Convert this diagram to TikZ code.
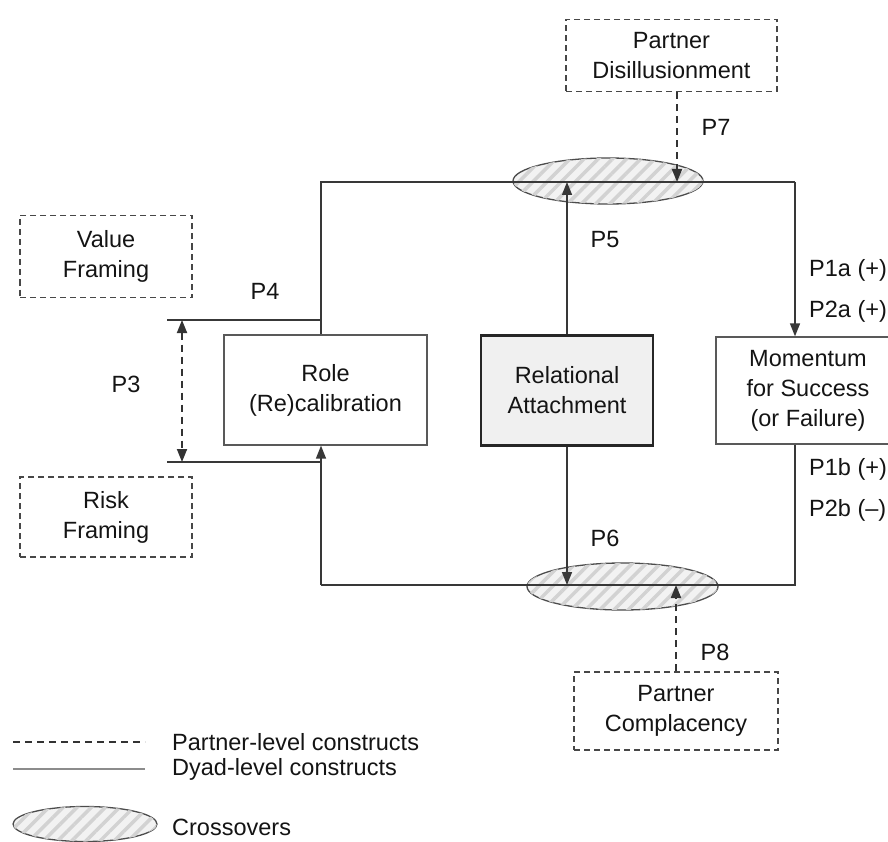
\documentclass[tikz,border=0pt]{standalone}
\usepackage{fontspec}
\setmainfont{Liberation Sans}
\usetikzlibrary{arrows.meta,shapes.geometric,patterns.meta}

\begin{document}
\begin{tikzpicture}[x=1pt,y=-1pt,
  font=\fontsize{23.5}{30}\selectfont,
  every node/.style={text=black!92},
  conn/.style={draw=black!78, line width=1.5pt},
  tipend/.style={-{Triangle[length=13pt,width=10pt]}},
  partner/.style={draw=black!80, line width=2pt, dash pattern=on 7pt off 5pt},
  dyadbox/.style={draw=black!65, line width=1.3pt, align=center, inner sep=0pt},
  partnerbox/.style={draw=black!72, line width=1.6pt, dash pattern=on 6pt off 4pt, align=center, inner sep=0pt},
  crossover/.style={ellipse, draw=black!70, line width=1.3pt, inner sep=0pt,
    fill=gray!10, postaction={pattern={Lines[angle=45,distance=10pt,line width=3.5pt]}, pattern color=gray!35}},
  plabel/.style={inner sep=0pt}
]
\clip (0,0) rectangle (888,842);

% crossover ellipses
\node[crossover, minimum width=190pt, minimum height=46pt] (topx) at (608,181) {};
\node[crossover, minimum width=191pt, minimum height=47pt] (botx) at (622.5,586.5) {};

% constructs
\node[partnerbox, minimum width=211pt, minimum height=72pt] (dis) at (671.5,55.5) {Partner\\Disillusionment};
\node[partnerbox, minimum width=172pt, minimum height=82pt] (value) at (106,256.5) {Value\\Framing};
\node[partnerbox, minimum width=172pt, minimum height=80pt] (risk) at (106,517) {Risk\\Framing};
\node[partnerbox, minimum width=204pt, minimum height=78pt] (comp) at (676,711) {Partner\\Complacency};

\node[dyadbox, minimum width=203pt, minimum height=110pt] (role) at (325.5,390) {Role\\(Re)calibration};
\node[dyadbox, draw=black!85, line width=2.6pt, fill=gray!12, minimum width=172pt, minimum height=110pt] (ra) at (567,390.5) {Relational\\Attachment};
\node[dyadbox, minimum width=184pt, minimum height=107pt] (mom) at (808,390.5) {Momentum\\for Success\\(or Failure)};

% loop corners
\coordinate (tl) at (321,182);
\coordinate (tr) at (795,182);
\coordinate (br) at (795,585);
\coordinate (bl) at (321,585);
\coordinate (p4l) at (167,320);
\coordinate (p3l) at (167,462);
\coordinate (p3a) at (182,320);
\coordinate (p3b) at (182,462);
\coordinate (p7t) at (677,182);

% dyad-level loop
\draw[conn] (tl |- role.north) -- (tl) -- (tr);
\draw[conn, tipend] (tr) -- (tr |- mom.north);
\draw[conn] (br |- mom.south) -- (br) -- (bl);
\draw[conn, tipend] (bl) -- (bl |- role.south);
\draw[conn, tipend] (ra.north) -- (ra.north |- tl);
\draw[conn, tipend] (ra.south) -- (ra.south |- bl);

% framing bounds
\draw[conn] (p4l) -- (p4l -| tl);
\draw[conn] (p3l) -- (p3l -| tl);
\draw[partner, line width=1.8pt, {Triangle[length=13pt,width=10pt]}-{Triangle[length=13pt,width=10pt]}] (p3a) -- (p3b);

% partner-level influences
\draw[partner, tipend] (dis.south -| p7t) -- (p7t);
\draw[partner, tipend] (comp.north) -- (comp.north |- bl);

% proposition labels
\node[plabel] (lp7) at (716,127) {P7};
\node[plabel] (lp5) at (605,240) {P5};
\node[plabel] (lp6) at (605,538) {P6};
\node[plabel] (lp8) at (715,652) {P8};
\node[plabel] (lp4) at (265,291) {P4};
\node[plabel] (lp3) at (126,384) {P3};
\node[plabel, anchor=west] (lp1a) at (809,270) {P1a (+)};
\node[plabel, anchor=west] (lp2a) at (809,311) {P2a (+)};
\node[plabel, anchor=west] (lp1b) at (809,469) {P1b (+)};
\node[plabel, anchor=west] (lp2b) at (809,510) {P2b (–)};

% legend
\coordinate (lg1a) at (13,742);
\coordinate (lg1b) at (145,742);
\coordinate (lg2a) at (13,769);
\coordinate (lg2b) at (145,769);
\draw[draw=black!80, line width=1.6pt, dash pattern=on 7pt off 5pt] (lg1a) -- (lg1b);
\draw[draw=black!45, line width=2.2pt] (lg2a) -- (lg2b);
\node[crossover, minimum width=144pt, minimum height=35pt] (lgx) at (85,824) {};
\node[plabel, anchor=west] (lt1) at (172,742) {Partner-level constructs};
\node[plabel, anchor=west] (lt2) at (172,769) {Dyad-level constructs};
\node[plabel, anchor=west] (lt3) at (172,827) {Crossovers};
\end{tikzpicture}
\end{document}
